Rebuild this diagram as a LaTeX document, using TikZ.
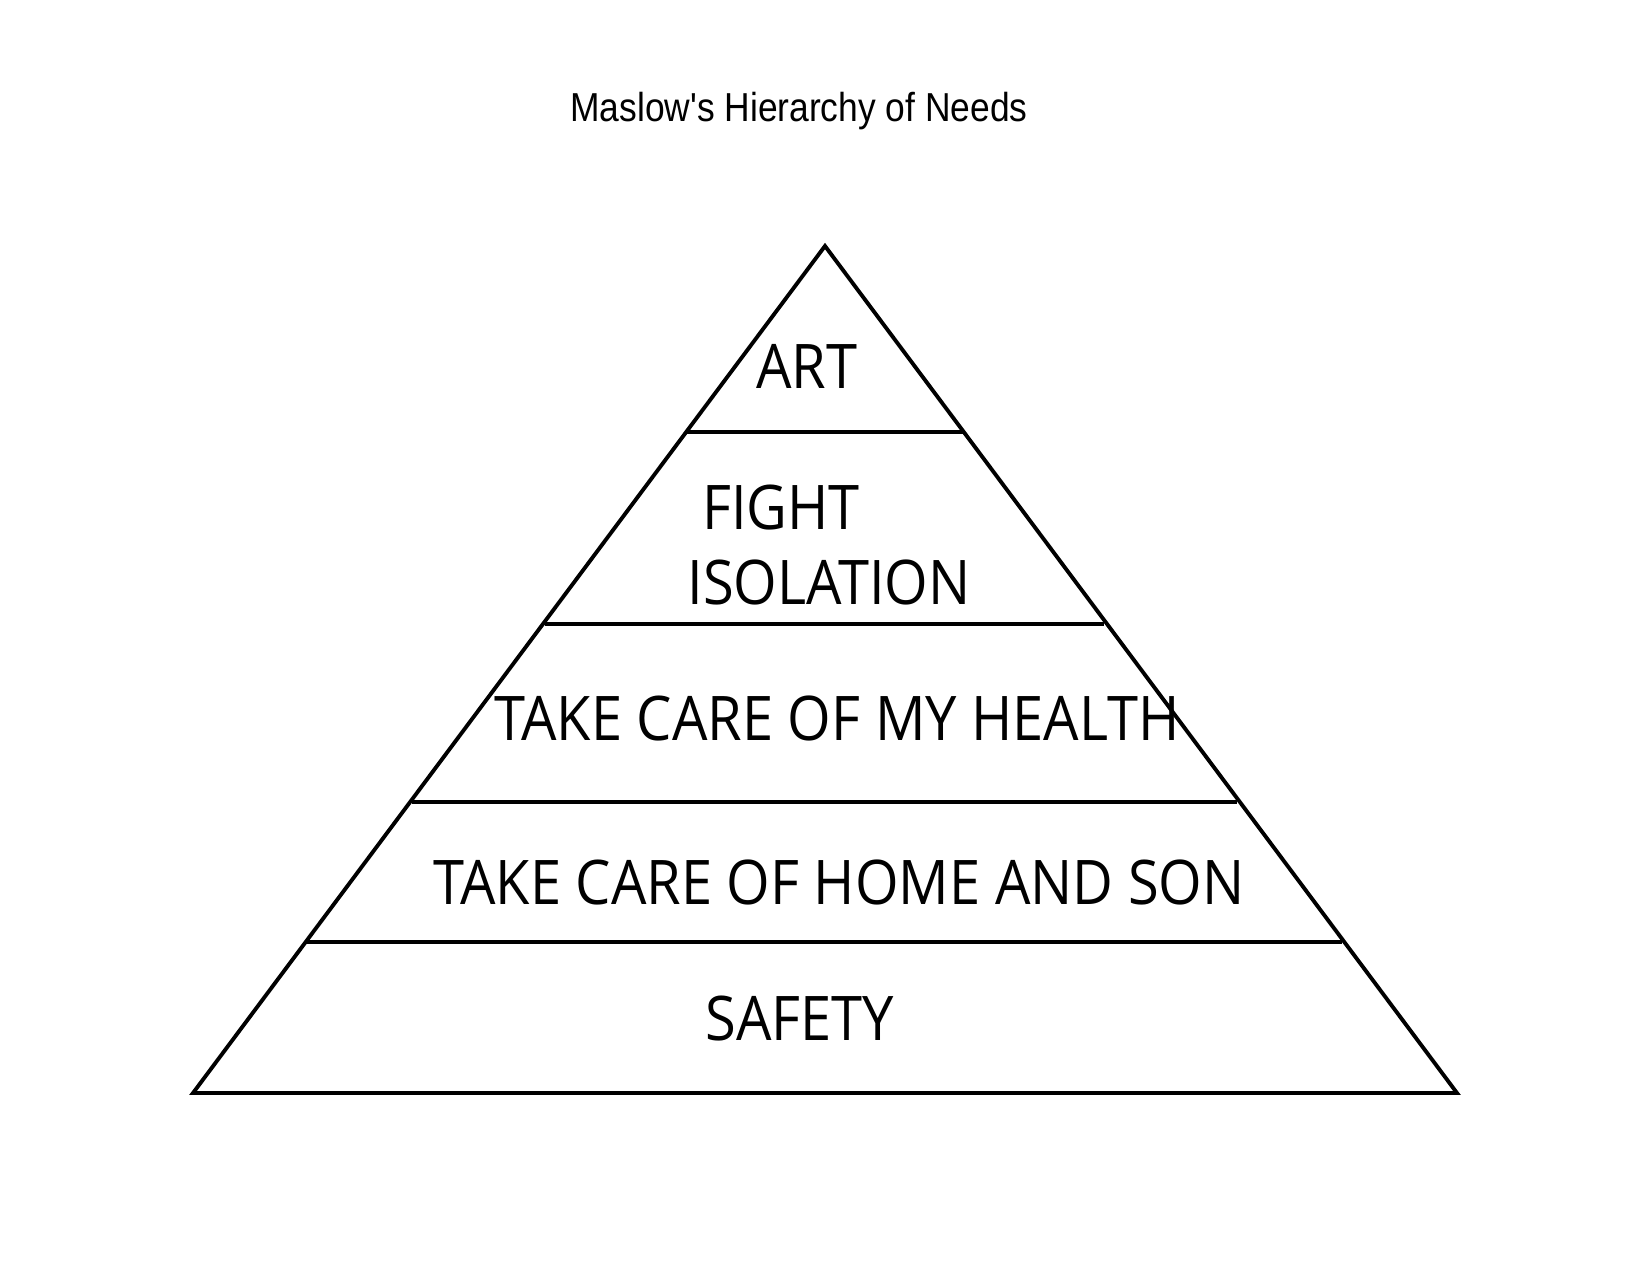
\documentclass[tikz,border=0pt]{standalone}
\usepackage{fontspec}
\setmainfont{Open Sans}
\newfontfamily\lvlfont{Open Sans}[FakeStretch=0.91]
\newfontfamily\titlefont{Liberation Sans}[FakeStretch=0.875]
\begin{document}
\begin{tikzpicture}[x=0.01cm,y=-0.01cm,
  edge/.style={line width=1.1pt,line join=miter},
  level/.style={font=\lvlfont\fontsize{17.5}{20}\selectfont,anchor=base,inner sep=0pt},
  ttl/.style={font=\titlefont\fontsize{11.5}{14}\selectfont,anchor=base,inner sep=0pt}]
\useasboundingbox[fill=white] (0,0) rectangle (1650,1275);
\coordinate (apex) at (825,246);
\coordinate (bl) at (193,1093);
\coordinate (br) at (1457,1093);
\draw[edge] (apex) -- (bl) -- (br) -- cycle;
\coordinate (l1a) at (687,432); \coordinate (l1b) at (963,432);
\coordinate (l2a) at (545,624); \coordinate (l2b) at (1104,624);
\coordinate (l3a) at (412,802); \coordinate (l3b) at (1237,802);
\coordinate (l4a) at (307,942); \coordinate (l4b) at (1342,942);
\draw[edge] (l1a) -- (l1b);
\draw[edge] (l2a) -- (l2b);
\draw[edge] (l3a) -- (l3b);
\draw[edge] (l4a) -- (l4b);
\node[ttl] (title) at (799,121) {Maslow's Hierarchy of Needs};
\node[level] (art) at (807,388) {ART};
\node[level] (fight) at (781,529) {FIGHT};
\node[level] (iso) at (829,604) {ISOLATION};
\node[level] (health) at (837,740) {TAKE CARE OF MY HEALTH};
\node[level] (home) at (839,904) {TAKE CARE OF HOME AND SON};
\node[level] (safety) at (800,1040) {SAFETY};
\end{tikzpicture}
\end{document}
